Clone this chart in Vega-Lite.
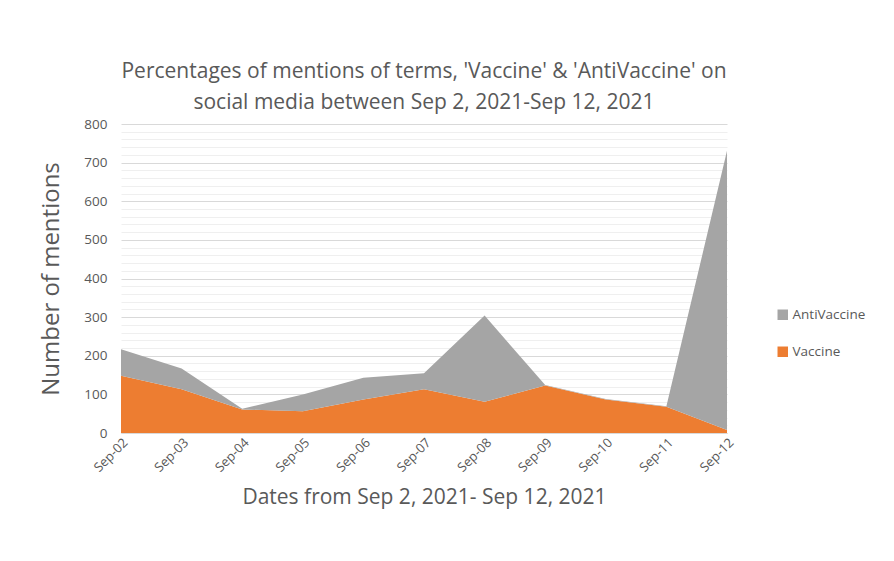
{
  "$schema": "https://vega.github.io/schema/vega-lite/v6.json",
  "width": 606,
  "height": 309,
  "autosize": "none",
  "padding": {"left": 121, "top": 124, "right": 167, "bottom": 128},
  "background": "white",
  "config": {"view": {"stroke": null}, "font": "Open Sans"},
  "title": {
    "text": ["Percentages of mentions of terms, 'Vaccine' & 'AntiVaccine' on", "social media between Sep 2, 2021-Sep 12, 2021"],
    "fontSize": 21,
    "fontWeight": "normal",
    "color": "#595959",
    "anchor": "middle",
    "lineHeight": 31,
    "offset": 4
  },
  "data": {
    "values": [
      {"date": "Sep-02", "series": "Vaccine", "mentions": 148},
      {"date": "Sep-03", "series": "Vaccine", "mentions": 113},
      {"date": "Sep-04", "series": "Vaccine", "mentions": 61},
      {"date": "Sep-05", "series": "Vaccine", "mentions": 56},
      {"date": "Sep-06", "series": "Vaccine", "mentions": 87},
      {"date": "Sep-07", "series": "Vaccine", "mentions": 113},
      {"date": "Sep-08", "series": "Vaccine", "mentions": 81},
      {"date": "Sep-09", "series": "Vaccine", "mentions": 123},
      {"date": "Sep-10", "series": "Vaccine", "mentions": 87},
      {"date": "Sep-11", "series": "Vaccine", "mentions": 68},
      {"date": "Sep-12", "series": "Vaccine", "mentions": 8},
      {"date": "Sep-02", "series": "AntiVaccine", "mentions": 69},
      {"date": "Sep-03", "series": "AntiVaccine", "mentions": 54},
      {"date": "Sep-04", "series": "AntiVaccine", "mentions": 2},
      {"date": "Sep-05", "series": "AntiVaccine", "mentions": 44},
      {"date": "Sep-06", "series": "AntiVaccine", "mentions": 56},
      {"date": "Sep-07", "series": "AntiVaccine", "mentions": 42},
      {"date": "Sep-08", "series": "AntiVaccine", "mentions": 223},
      {"date": "Sep-09", "series": "AntiVaccine", "mentions": 1},
      {"date": "Sep-10", "series": "AntiVaccine", "mentions": 1},
      {"date": "Sep-11", "series": "AntiVaccine", "mentions": 1},
      {"date": "Sep-12", "series": "AntiVaccine", "mentions": 723}
    ]
  },
  "layer": [
    {
      "mark": {"type": "rule", "opacity": 0},
      "encoding": {
        "y": {
          "field": "mentions",
          "type": "quantitative",
          "scale": {"domain": [0, 800]},
          "axis": {
            "orient": "left",
            "values": [20,40,60,80,120,140,160,180,220,240,260,280,320,340,360,380,420,440,460,480,520,540,560,580,620,640,660,680,720,740,760,780],
            "grid": true,
            "gridColor": "#efefef",
            "gridWidth": 1,
            "labels": false,
            "ticks": false,
            "domain": false,
            "title": null
          }
        }
      }
    },
    {
      "mark": {"type": "area", "opacity": 1},
      "encoding": {
        "x": {
          "field": "date",
          "type": "ordinal",
          "scale": {"type": "point", "padding": 0},
          "axis": {
            "title": "Dates from Sep 2, 2021- Sep 12, 2021",
            "titleFontSize": 21,
            "titleFontWeight": "normal",
            "titleColor": "#595959",
            "titlePadding": 12,
            "labelAngle": -45,
            "labelFontSize": 13,
            "labelColor": "#595959",
            "labelPadding": 3,
            "ticks": false,
            "domainColor": "#d9d9d9",
            "grid": false
          }
        },
        "y": {
          "field": "mentions",
          "type": "quantitative",
          "stack": "zero",
          "scale": {"domain": [0, 800]},
          "axis": {
            "orient": "left",
            "values": [0,100,200,300,400,500,600,700,800],
            "grid": true,
            "gridColor": "#d9d9d9",
            "gridWidth": 1,
            "ticks": false,
            "domain": false,
            "labelFontSize": 13.5,
            "labelColor": "#595959",
            "labelPadding": 14,
            "title": "Number of mentions",
            "titleFontSize": 24,
            "titleFontWeight": "normal",
            "titleColor": "#595959",
            "titlePadding": 20
          }
        },
        "color": {
          "field": "series",
          "type": "nominal",
          "scale": {"domain": ["AntiVaccine", "Vaccine"], "range": ["#a5a5a5", "#ed7d31"]},
          "legend": {
            "orient": "none",
            "legendX": 655,
            "legendY": 184,
            "title": null,
            "symbolType": "square",
            "symbolSize": 110,
            "symbolStrokeWidth": 0,
            "labelFontSize": 13.5,
            "labelColor": "#595959",
            "rowPadding": 22,
            "labelOffset": 3
          }
        },
        "order": {"field": "series", "sort": "descending"}
      }
    }
  ],
  "resolve": {"axis": {"y": "independent"}}
}
